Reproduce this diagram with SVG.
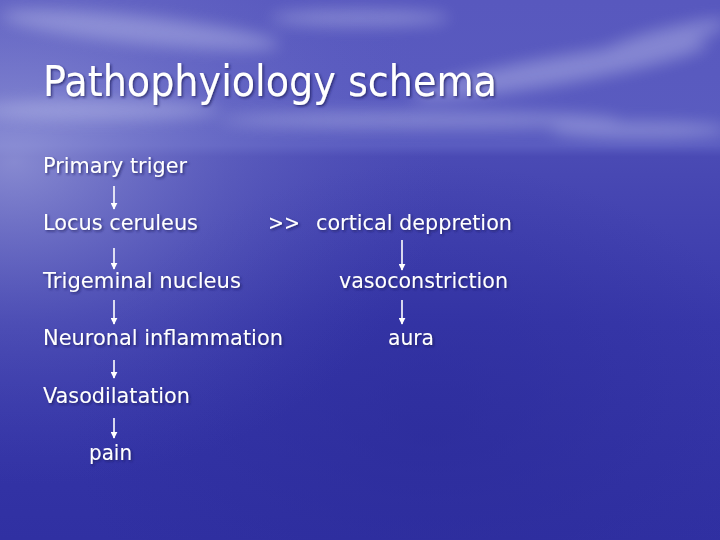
<svg xmlns="http://www.w3.org/2000/svg" width="720" height="540" viewBox="0 0 720 540">
<defs>
<linearGradient id="sky" x1="0" y1="0" x2="0" y2="1">
<stop offset="0" stop-color="#5858be"/>
<stop offset="0.27" stop-color="#5a5cc0"/>
<stop offset="0.29" stop-color="#4a4ab4"/>
<stop offset="0.6" stop-color="#3838aa"/>
<stop offset="1" stop-color="#3030a2"/>
</linearGradient>
<radialGradient id="glow" cx="0.02" cy="0.3" r="0.6">
<stop offset="0" stop-color="#b0b4e4" stop-opacity="0.6"/>
<stop offset="0.5" stop-color="#8a8ed4" stop-opacity="0.25"/>
<stop offset="1" stop-color="#5a5cc0" stop-opacity="0"/>
</radialGradient>
<radialGradient id="dark" cx="0.6" cy="0.8" r="0.5">
<stop offset="0" stop-color="#2a2a98" stop-opacity="0.6"/>
<stop offset="1" stop-color="#2a2a98" stop-opacity="0"/>
</radialGradient>
<filter id="blur" x="-50%" y="-50%" width="200%" height="200%"><feGaussianBlur stdDeviation="8"/></filter>
<filter id="sh" x="-10%" y="-20%" width="120%" height="150%"><feDropShadow dx="1.5" dy="1.5" stdDeviation="0.8" flood-color="#1c1c5a" flood-opacity="0.7"/></filter>
<marker id="ah" viewBox="0 0 10 10" refX="9" refY="5" markerWidth="7" markerHeight="7" orient="auto" markerUnits="userSpaceOnUse">
<path d="M0,0 L10,5 L0,10 Z" fill="#ffffff"/>
</marker>
<style>
.t{font-family:"DejaVu Sans","Liberation Sans",sans-serif;fill:#ffffff;filter:url(#sh)}
.b{font-size:21px}
.h{font-size:43px}
.c line{stroke:#ffffff;stroke-width:1.6;marker-end:url(#ah)}
</style>
</defs>
<rect width="720" height="540" fill="url(#sky)"/>
<rect width="720" height="540" fill="url(#dark)"/>
<rect width="720" height="540" fill="url(#glow)"/>
<g filter="url(#blur)" fill="#c8cbf0" opacity="0.4">
<ellipse cx="140" cy="30" rx="140" ry="14" transform="rotate(6 140 30)"/>
<ellipse cx="360" cy="18" rx="90" ry="8"/>
<ellipse cx="560" cy="70" rx="150" ry="14" transform="rotate(-10 560 70)"/>
<ellipse cx="660" cy="40" rx="70" ry="10" transform="rotate(-15 660 40)"/>
<ellipse cx="100" cy="110" rx="120" ry="10"/>
<ellipse cx="420" cy="120" rx="200" ry="8"/>
<ellipse cx="640" cy="130" rx="90" ry="8"/>
</g>
<g id="title"><text class="t h" x="43" y="96" textLength="454" lengthAdjust="spacingAndGlyphs">Pathophyiology schema</text></g>
<g id="n1"><text class="t b" x="43" y="173" textLength="144" lengthAdjust="spacingAndGlyphs">Primary triger</text></g>
<g id="n2"><text class="t b" x="43" y="230" textLength="155" lengthAdjust="spacingAndGlyphs">Locus ceruleus</text></g>
<g id="n3"><text class="t b" x="268" y="230" textLength="32" lengthAdjust="spacingAndGlyphs">&gt;&gt;</text></g>
<g id="n4"><text class="t b" x="316" y="230" textLength="196" lengthAdjust="spacingAndGlyphs">cortical deppretion</text></g>
<g id="n5"><text class="t b" x="43" y="288" textLength="198" lengthAdjust="spacingAndGlyphs">Trigeminal nucleus</text></g>
<g id="n6"><text class="t b" x="339" y="288" textLength="169" lengthAdjust="spacingAndGlyphs">vasoconstriction</text></g>
<g id="n7"><text class="t b" x="43" y="345" textLength="240" lengthAdjust="spacingAndGlyphs">Neuronal inflammation</text></g>
<g id="n8"><text class="t b" x="388" y="345" textLength="46" lengthAdjust="spacingAndGlyphs">aura</text></g>
<g id="n9"><text class="t b" x="43" y="403" textLength="147" lengthAdjust="spacingAndGlyphs">Vasodilatation</text></g>
<g id="n10"><text class="t b" x="89" y="460" textLength="43" lengthAdjust="spacingAndGlyphs">pain</text></g>
<g class="c" id="connectors">
<line x1="114" y1="186" x2="114" y2="209"/>
<line x1="114" y1="248" x2="114" y2="269"/>
<line x1="114" y1="300" x2="114" y2="324"/>
<line x1="114" y1="360" x2="114" y2="378"/>
<line x1="114" y1="418" x2="114" y2="438"/>
<line x1="402" y1="240" x2="402" y2="270"/>
<line x1="402" y1="300" x2="402" y2="324"/>
</g>
</svg>
